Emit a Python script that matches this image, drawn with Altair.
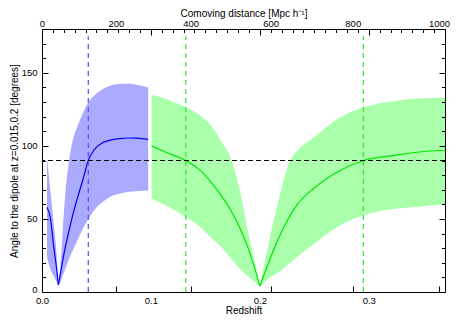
import altair as alt
import pandas as pd

# ---------------- data ----------------
# blue band (dipole at z=0.015): falling branch and rising branch
z_blue_a = [0.0046, 0.0076, 0.0106, 0.0137, 0.015]
blue_mid_a = [58, 51, 32, 14, 5]
blue_hi_a = [92, 70, 48, 22, 5]
blue_lo_a = [24, 16, 11, 6.6, 4]

z_blue_b = [0.015, 0.0165, 0.019, 0.0215, 0.0245, 0.028, 0.0328, 0.038, 0.0425,
            0.048, 0.0548, 0.062, 0.0716, 0.08, 0.087, 0.0975]
blue_mid_b = [5, 11, 21.5, 31, 41, 52, 65, 78, 90,
              97.5, 101.8, 103.8, 105, 105.4, 105.3, 104.5]
blue_hi_b = [5, 14, 42, 68, 88, 103, 114, 123, 129.7,
             134.5, 138.5, 141, 142.5, 142.6, 141.8, 140]
blue_lo_b = [4, 6, 11, 16, 22, 28, 36, 44, 50,
             56, 61, 65, 67.5, 68.6, 69, 69.5]

# green band (dipole at z=0.2): falling branch and rising branch
z_green_a = [0.1006, 0.1144, 0.132, 0.145, 0.157, 0.1645, 0.1725, 0.1815, 0.1893, 0.1954, 0.2]
green_mid_a = [100, 95.5, 90, 83.4, 73.5, 66, 57, 44, 30, 16, 4]
green_hi_a = [135, 131.9, 126.4, 120.9, 112, 103, 93, 70, 41, 20, 5]
green_lo_a = [64, 59, 51.4, 44.7, 36, 31, 24, 16, 10.6, 7, 4]

z_green_b = [0.2, 0.2045, 0.2106, 0.2183, 0.226, 0.235, 0.25, 0.2716, 0.295, 0.3236, 0.3483, 0.371]
green_mid_b = [4, 13, 25, 38.5, 50, 60.5, 71.2, 82.3, 90, 93.5, 96, 97]
green_hi_b = [5, 20, 42, 66, 87, 97, 106, 118.6, 126.4, 130.8, 132.6, 133]
green_lo_b = [4, 7, 10.5, 14, 19, 24.5, 33, 44.7, 52.5, 56.9, 58.6, 60.2]

marker_z = [0.0425, 0.132, 0.295]
marker_series = ["blue", "green", "green"]
marker_top = [175, 175, 175]
reference_angle = [90]

x_ticks = [round(i * 0.01, 2) for i in range(38)]
y_ticks = list(range(0, 181, 10))
comoving_labels = [0, 200, 400, 600, 800, 1000]
comoving_z = [0, 0.0679, 0.1365, 0.2100, 0.2853, 0.3645]

# ---------------- styling ----------------
FONT = "Liberation Sans"
band_color = {"blue": "#aaaaff", "green": "#aaffaa"}
line_color = {"blue": "#0000ff", "green": "#00e600"}
dash_color = {"blue": "#4d4dff", "green": "#33e633"}

PW, PH = 403, 263
LABEL_SIZE = 9.5
TITLE_SIZE = 10

X = alt.Scale(domain=[0, 0.37], nice=False, zero=False)
Y = alt.Scale(domain=[0, 180], nice=False, zero=False)

xt = ",".join(str(v) for v in comoving_z)
lt = ",".join("'%d'" % v for v in comoving_labels)

bottom_axis = alt.Axis(
    orient="bottom", values=x_ticks,
    labelExpr="round(datum.value*100) % 10 === 0 ? format(datum.value, '.1f') : ''",
    ticks=False, tickSize=0, domain=True, domainColor="black", domainWidth=1,
    grid=True, gridColor="black", gridOpacity=1, gridWidth=1,
    gridDash={"condition": {"test": "round(datum.value*100) % 10 === 0", "value": [6, 1000]},
              "value": [3.5, 1000]},
    labelPadding=3, labelFlush=False, labelOverlap=False,
    labelFont=FONT, labelFontSize=LABEL_SIZE, labelColor="black",
    title="Redshift", titleFont=FONT, titleFontSize=TITLE_SIZE, titleFontWeight="normal",
    titleColor="black", titlePadding=1, zindex=1,
)

top_axis = alt.Axis(
    orient="top", values=comoving_z,
    labelExpr="[" + lt + "][indexof([" + xt + "], datum.value)]",
    ticks=False, tickSize=0, domain=True, domainColor="black", domainWidth=1,
    grid=True, gridColor="black", gridOpacity=1, gridWidth=1, gridDash=[6, 1000],
    labelPadding=1, labelFlush=False, labelOverlap=False,
    labelFont=FONT, labelFontSize=LABEL_SIZE, labelColor="black",
    title="Comoving distance [Mpc h\u207b\u00b9]", titleFont=FONT, titleFontSize=TITLE_SIZE,
    titleFontWeight="normal", titleColor="black", titlePadding=0, zindex=1,
)

left_axis = alt.Axis(
    orient="left", values=y_ticks,
    labelExpr="datum.value % 50 === 0 ? format(datum.value, 'd') : ''",
    labelOffset={"condition": {"test": "datum.value === 0", "value": -3}, "value": 0},
    ticks=False, tickSize=0, domain=True, domainColor="black", domainWidth=1,
    grid=True, gridColor="black", gridOpacity=1, gridWidth=1,
    gridDash={"condition": {"test": "datum.value % 50 === 0", "value": [6, PW - 12, 6]},
              "value": [3.5, PW - 7, 3.5]},
    labelPadding=5, labelFlush=False, labelOverlap=False,
    labelFont=FONT, labelFontSize=LABEL_SIZE, labelColor="black",
    title="Angle to the dipole at z=0.015,0.2 [degrees]", titleFont=FONT,
    titleFontSize=TITLE_SIZE, titleFontWeight="normal", titleColor="black",
    titlePadding=2, zindex=1,
)

right_axis = alt.Axis(orient="right", labels=False, ticks=False, grid=False, domain=True,
                      domainColor="black", domainWidth=1, title=None, zindex=1)

# ---------------- tables ----------------
segments = [
    ("blue", pd.DataFrame({"z": z_blue_a, "lo": blue_lo_a, "hi": blue_hi_a, "mid": blue_mid_a})),
    ("blue", pd.DataFrame({"z": z_blue_b, "lo": blue_lo_b, "hi": blue_hi_b, "mid": blue_mid_b})),
    ("green", pd.DataFrame({"z": z_green_a, "lo": green_lo_a, "hi": green_hi_a, "mid": green_mid_a})),
    ("green", pd.DataFrame({"z": z_green_b, "lo": green_lo_b, "hi": green_hi_b, "mid": green_mid_b})),
]
markers = pd.DataFrame({"z": marker_z, "series": marker_series,
                        "y0": [0] * len(marker_z), "y1": marker_top})
hline = pd.DataFrame({"a": reference_angle})

layers = []
first = True
for name, df in segments:
    layers.append(
        alt.Chart(df).mark_area(color=band_color[name], opacity=1, interpolate="monotone").encode(
            x=alt.X("z:Q", scale=X, axis=bottom_axis if first else None),
            y=alt.Y("lo:Q", scale=Y, axis=left_axis if first else None),
            y2="hi:Q",
        )
    )
    first = False

for name, df in segments:
    layers.append(
        alt.Chart(df).mark_line(color=line_color[name], strokeWidth=1.2, interpolate="monotone").encode(
            x=alt.X("z:Q", scale=X, axis=None),
            y=alt.Y("mid:Q", scale=Y, axis=None),
        )
    )

layers.append(
    alt.Chart(hline).mark_rule(color="black", strokeDash=[5, 3], strokeWidth=1).encode(
        y=alt.Y("a:Q", scale=Y, axis=None)
    )
)

for name in ["blue", "green"]:
    layers.append(
        alt.Chart(markers).transform_filter(alt.datum.series == name)
        .mark_rule(color=dash_color[name], strokeDash=[5, 4], strokeWidth=1.2).encode(
            x=alt.X("z:Q", scale=X, axis=None),
            y=alt.Y("y0:Q", scale=Y, axis=None),
            y2="y1:Q",
        )
    )

layers.append(
    alt.Chart(pd.DataFrame({"z": [0.0], "a": [0.0]})).mark_point(opacity=0).encode(
        x=alt.X("z:Q", scale=X, axis=top_axis),
        y=alt.Y("a:Q", scale=Y, axis=right_axis),
    )
)

chart = (
    alt.layer(*layers)
    .resolve_axis(x="independent", y="independent")
    .properties(
        width=PW, height=PH,
        autosize=alt.AutoSizeParams(type="none"),
        padding={"left": 34, "top": 21, "right": 5, "bottom": 23},
        background="white",
    )
    .configure_view(stroke=None)
)

chart.save("out.html", embed_options={"renderer": "svg", "actions": False})
